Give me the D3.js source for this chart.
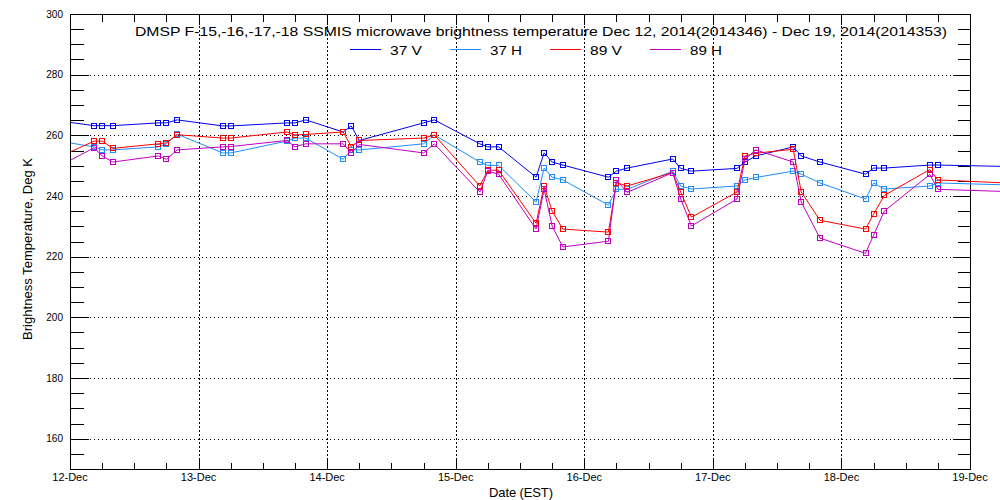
<!DOCTYPE html>
<html>
<head>
<meta charset="utf-8">
<script src="https://cdn.jsdelivr.net/npm/d3@7"></script>
<style>
  body { margin: 0; background: #fff; }
  svg { display: block; }
  text { font-family: "Liberation Sans", Arial, sans-serif; fill: #000; }
</style>
</head>
<body>
<script>
// hours since 12-Dec-2014 00:00 EST (first and last points lie just outside the axis range)
const hours = [-3.5, 4.5, 6, 8, 16.5, 18, 20, 28.5, 30, 40.5, 42, 44, 51, 52.5, 54, 66, 68,
  76.5, 78, 80, 87, 88.5, 90, 92, 100.5, 102, 104, 112.5, 114, 116, 124.5, 126, 128,
  135, 136.5, 140, 148.5, 150, 152, 160.5, 162, 176];

const tb37V = [265.1, 263.2, 263.2, 263.2, 264.1, 264.1, 265.1, 263.1, 263.1, 264.1, 264.1, 265.1,
  261.1, 263.1, 258.3, 264.1, 265.1, 257.2, 256.2, 256.2, 246.2, 254.2, 251.2, 250.2,
  246.2, 248.2, 249.2, 252.2, 249.1, 248.2, 249.1, 251.2, 253.2, 256.2, 253.2, 251.2,
  247.2, 249.2, 249.2, 250.2, 250.2, 249.7];
const tb37H = [258.5, 256.2, 255.2, 255.2, 256.2, 257.2, 260.4, 254.2, 254.2, 258.1, 259.1, 259.1,
  252.1, 255.2, 255.2, 257.2, 260.1, 251.2, 250.1, 250.1, 238.0, 249.2, 246.2, 245.3,
  237.0, 242.2, 242.2, 248.2, 243.3, 242.3, 243.3, 245.3, 246.1, 248.2, 247.2, 244.3,
  239.0, 244.3, 242.3, 243.3, 244.3, 243.6];
const tb89V = [251.7, 258.1, 258.1, 255.7, 257.2, 257.5, 260.2, 259.1, 259.1, 261.1, 260.1, 260.3,
  261.1, 256.3, 258.3, 259.1, 260.1, 243.3, 248.5, 248.5, 231.0, 243.3, 235.0, 229.1,
  228.1, 244.4, 243.3, 247.7, 241.3, 233.0, 241.3, 253.2, 254.1, 255.4, 241.3, 232.0,
  229.1, 234.0, 240.2, 248.7, 245.3, 244.2];
const tb89H = [248.5, 255.9, 253.2, 251.2, 253.2, 252.1, 255.2, 256.2, 256.3, 258.3, 256.2, 257.2,
  257.2, 254.2, 257.0, 254.2, 257.2, 241.3, 248.2, 247.2, 229.1, 242.2, 230.1, 223.2,
  225.1, 245.3, 241.2, 247.7, 239.0, 230.1, 239.0, 252.1, 255.2, 251.2, 238.0, 226.1,
  221.1, 227.1, 235.0, 247.1, 242.2, 241.4];

const seriesNames = ["37 V", "37 H", "89 V", "89 H"];
const seriesColors = ["#0000f0", "#1e8cff", "#ff0000", "#c000c0"];
const yMajorTicks = [160, 180, 200, 220, 240, 260, 280, 300];

const titleText = "DMSP F-15,-16,-17,-18 SSMIS microwave brightness temperature Dec 12, 2014(2014346) - Dec 19, 2014(2014353)";

const width = 1000, height = 500;
// plot box edges (integer pixels, axis lines drawn half a pixel off)
const pLeft = 70, pRight = 970, pTop = 14, pBottom = 469;

const t0 = new Date(2014, 11, 12);
const dates = hours.map(h => new Date(t0.getTime() + h * 3600e3));

const x = d3.scaleTime()
  .domain([t0, new Date(2014, 11, 19)])
  .range([pLeft, pRight]);
const y = d3.scaleLinear()
  .domain([150, 300])
  .range([pBottom, pTop]);

const svg = d3.select("body").append("svg")
  .attr("width", width).attr("height", height)
  .attr("shape-rendering", "crispEdges");

svg.append("rect").attr("width", width).attr("height", height).attr("fill", "#fff");

const px = v => Math.round(v) + 0.5;

// grid (dotted)
const dayTicks = d3.timeDay.range(new Date(2014, 11, 13), new Date(2014, 11, 19));
svg.append("g").selectAll("line").data(dayTicks).join("line")
  .attr("x1", d => px(x(d))).attr("x2", d => px(x(d)))
  .attr("y1", pTop).attr("y2", pBottom)
  .attr("stroke", "#000").attr("stroke-dasharray", "2,2");
svg.append("g").selectAll("line").data(yMajorTicks.filter(v => v < 300)).join("line")
  .attr("x1", pLeft).attr("x2", pRight)
  .attr("y1", d => px(y(d))).attr("y2", d => px(y(d)))
  .attr("stroke", "#000").attr("stroke-dasharray", "1,3");

// axes: ticks drawn inward, rounded to whole pixels
const hourTicks = d3.timeHour.every(6).range(t0, new Date(2014, 11, 19, 1));
const minorY = d3.range(150, 301, 5);

function ticksX(g, values, len, dir) {
  g.selectAll(null).data(values).join("line")
    .attr("x1", d => px(x(d))).attr("x2", d => px(x(d)))
    .attr("y1", 0).attr("y2", dir * len)
    .attr("stroke", "#000");
}
function ticksY(g, values, len, dir) {
  g.selectAll(null).data(values).join("line")
    .attr("y1", d => px(y(d))).attr("y2", d => px(y(d)))
    .attr("x1", 0).attr("x2", dir * len)
    .attr("stroke", "#000");
}
const allDays = d3.timeDay.range(t0, new Date(2014, 11, 19, 1));

svg.append("g").attr("transform", `translate(0,${pBottom + 0.5})`)
  .call(ticksX, hourTicks, 7, -1).call(ticksX, allDays, 10, -1);
svg.append("g").attr("transform", `translate(0,${pTop + 0.5})`)
  .call(ticksX, hourTicks, 7, 1).call(ticksX, allDays, 10, 1);
svg.append("g").attr("transform", `translate(${pLeft + 0.5},0)`)
  .call(ticksY, minorY, 13, 1).call(ticksY, yMajorTicks, 18, 1);
svg.append("g").attr("transform", `translate(${pRight + 0.5},0)`)
  .call(ticksY, minorY, 13, -1).call(ticksY, yMajorTicks, 18, -1);

// tick labels
svg.append("g").selectAll("text").data(allDays).join("text")
  .attr("x", d => x(d)).attr("y", pBottom + 12)
  .attr("text-anchor", "middle")
  .attr("font-size", 11)
  .text(d3.timeFormat("%d-%b"));
svg.append("g").selectAll("text").data(yMajorTicks).join("text")
  .attr("x", pLeft - 7).attr("y", d => y(d) + 3.6)
  .attr("text-anchor", "end")
  .attr("font-size", 10)
  .text(d3.format("d"));

svg.append("rect")
  .attr("x", pLeft + 0.5).attr("y", pTop + 0.5)
  .attr("width", pRight - pLeft).attr("height", pBottom - pTop)
  .attr("fill", "none").attr("stroke", "#000");

// series (clipped on the left only, like the original)
svg.append("clipPath").attr("id", "clip")
  .append("rect").attr("x", pLeft + 1).attr("y", 0).attr("width", width).attr("height", height);

const allSeries = [tb37V, tb37H, tb89V, tb89H];
const line = d3.line().x((d, i) => x(dates[i])).y(d => y(d));
const plot = svg.append("g").attr("clip-path", "url(#clip)");

allSeries.forEach((vals, s) => {
  plot.append("path")
    .datum(vals)
    .attr("fill", "none")
    .attr("stroke", seriesColors[s])
    .attr("stroke-width", 1)
    .attr("shape-rendering", "auto")
    .attr("d", line);
  plot.append("g").selectAll("rect")
    .data(vals)
    .join("rect")
    .attr("x", (d, i) => Math.round(x(dates[i])) - 2.5)
    .attr("y", d => Math.round(y(d)) - 2.5)
    .attr("width", 5).attr("height", 5)
    .attr("fill", "none")
    .attr("stroke", seriesColors[s])
    .attr("stroke-width", 1);
});

// title
svg.append("text")
  .attr("x", 135).attr("y", 36)
  .attr("font-size", 13.5)
  .attr("textLength", 812).attr("lengthAdjust", "spacingAndGlyphs")
  .text(titleText);

// legend
const legend = svg.append("g").selectAll("g").data(seriesNames).join("g")
  .attr("transform", (d, i) => `translate(${350 + i * 100},0)`);
legend.append("line")
  .attr("x1", 0).attr("x2", 31).attr("y1", 49.5).attr("y2", 49.5)
  .attr("stroke", (d, i) => seriesColors[i]);
legend.append("text")
  .attr("x", 40).attr("y", 55)
  .attr("font-size", 13.5)
  .attr("textLength", 32).attr("lengthAdjust", "spacingAndGlyphs")
  .text(d => d);

// axis titles
svg.append("text")
  .attr("x", 521).attr("y", 497)
  .attr("text-anchor", "middle")
  .attr("font-size", 13)
  .attr("textLength", 64)
  .text("Date (EST)");
svg.append("text")
  .attr("transform", "translate(32,249) rotate(-90)")
  .attr("text-anchor", "middle")
  .attr("font-size", 13)
  .attr("textLength", 182)
  .text("Brightness Temperature, Deg K");
</script>
</body>
</html>
